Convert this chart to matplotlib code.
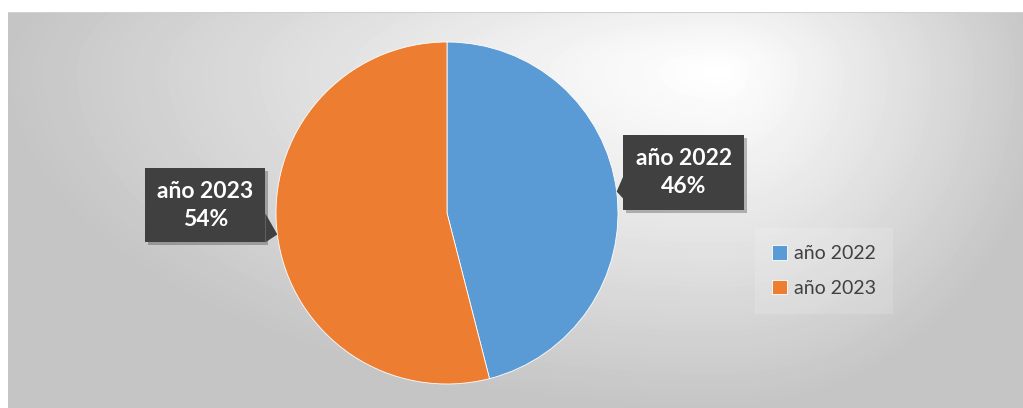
import numpy as np
import matplotlib
matplotlib.use("Agg")
import matplotlib.pyplot as plt
from matplotlib.patches import Rectangle, Polygon

# datos
etiquetas = ["año 2022", "año 2023"]
valores = [46, 54]
colores = ["#5B9BD5", "#ED7D31"]

plt.rcParams["font.family"] = ["Lato", "DejaVu Sans"]

W, H = 1023, 408
fig = plt.figure(figsize=(W / 100, H / 100), dpi=100)
fig.patch.set_facecolor("white")

# fondo con degradado radial (área del gráfico)
x0, y0 = 8, 12
bg = fig.add_axes([x0 / W, 0, (W - x0) / W, (H - y0) / H])
xs = np.arange(x0, W)
ys = np.arange(y0, H)
X, Y = np.meshgrid(xs, ys)
cx, cy = 720, 70
sx = np.where(X < cx, 720.0, 330.0)
sy = np.where(Y < cy, 200.0, 340.0)
d = np.sqrt(((X - cx) / sx) ** 2 + ((Y - cy) / sy) ** 2)
val = 1.0 - 0.23 * np.clip(d, 0, 1) ** 1.1
bg.imshow(val, cmap="gray", vmin=0, vmax=1, aspect="auto",
          extent=[x0, W, H, y0], interpolation="bilinear")
bg.axhline(y0 + 0.5, color="#d0d0d0", lw=1.5)
bg.set_axis_off()

# pastel
cxp, cyp, r = 447, 213, 171
ax = fig.add_axes([(cxp - r) / W, (H - cyp - r) / H, 2 * r / W, 2 * r / H])
wedges, _ = ax.pie(valores, colors=colores, startangle=90, counterclock=False,
                   radius=1, wedgeprops=dict(edgecolor="white", linewidth=0.6))
ax.set_xlim(-1, 1)
ax.set_ylim(-1, 1)
ax.set_aspect("equal")

# etiquetas tipo llamada
u = 1 / r
offsets = [(67 * u, 19 * u), (-72 * u, 29 * u)]
tamanos = [(121 * u, 75 * u), (120 * u, 74 * u)]
total = sum(valores)
for w, lab, v, off, (bw, bh) in zip(wedges, etiquetas, valores, offsets, tamanos):
    ang = np.deg2rad((w.theta1 + w.theta2) / 2)
    tx, ty = np.cos(ang), np.sin(ang)
    bx, by = tx + off[0], ty + off[1]
    # sombra
    ax.add_patch(Rectangle((bx - bw / 2 + 3 * u, by - bh / 2 - 3 * u), bw, bh,
                           facecolor="black", alpha=0.25, lw=0, clip_on=False, zorder=3))
    ax.add_patch(Rectangle((bx - bw / 2, by - bh / 2), bw, bh,
                           facecolor="#404040", lw=0, clip_on=False, zorder=4))
    if off[0] > 0:
        pts = [(bx - bw / 2, by - 4 * u), (bx - bw / 2, by - 26 * u), (tx, ty)]
    else:
        pts = [(bx + bw / 2, by - 8 * u), (bx + bw / 2, by - bh / 2), (tx, ty)]
    ax.add_patch(Polygon(pts, closed=True, facecolor="#404040", lw=0,
                         clip_on=False, zorder=4))
    ax.text(bx, by, f"{lab}\n{round(v / total * 100)}%", color="white",
            fontsize=16.5, fontweight="bold", ha="center", va="center",
            linespacing=1.45, zorder=5)

leg = fig.legend(wedges, etiquetas, loc="center left",
                 bbox_to_anchor=(745 / W, 1 - 271 / H), frameon=True,
                 fontsize=14, labelcolor="#404040", handlelength=0.75,
                 handleheight=0.75, handletextpad=0.35, labelspacing=0.9,
                 borderpad=0.9, fancybox=False)
leg.get_frame().set_facecolor("white")
leg.get_frame().set_alpha(0.15)
leg.get_frame().set_linewidth(0)

fig.savefig("out.png", dpi=100)
